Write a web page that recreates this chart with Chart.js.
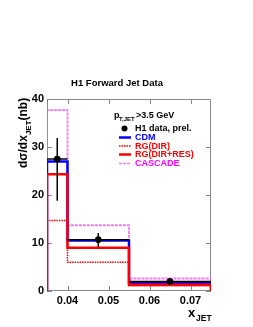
<!DOCTYPE html>
<html>
<head>
<meta charset="utf-8">
<script src="https://cdn.jsdelivr.net/npm/chart.js@4"></script>
<style>
  html, body { margin: 0; padding: 0; background: #fff; }
  canvas { display: block; }
</style>
</head>
<body>
<canvas id="c" width="253" height="327"></canvas>
<script>
// bin edges and histogram heights (nb)
const binEdges = [0.035, 0.04, 0.055, 0.075];
const cdm      = [27.0, 10.5, 1.7];
const rgDir    = [14.7, 6.0, 1.1];
const rgDirRes = [24.3, 9.0, 1.3];
const cascade  = [37.7, 13.7, 2.6];

// H1 data points
const dataX     = [0.0375, 0.0475, 0.065];
const dataY     = [27.5, 10.7, 2.0];
const dataErrUp = [4.4, 1.4, 0.3];
const dataErrDn = [8.7, 1.5, 0.3];

const xTicks = [0.04, 0.05, 0.06, 0.07];
const yTicks = [0, 10, 20, 30, 40];

const FONT = 'Liberation Sans, Arial, sans-serif';

// turn bin contents into a step outline
function steps(vals) {
  const pts = [{ x: binEdges[0], y: 0 }];
  vals.forEach((v, i) => {
    pts.push({ x: binEdges[i], y: v });
    pts.push({ x: binEdges[i + 1], y: v });
  });
  pts.push({ x: binEdges[binEdges.length - 1], y: 0 });
  return pts;
}

const legendItems = [
  { label: 'H1 data, prel.', color: '#000', type: 'dot' },
  { label: 'CDM', color: '#0000ff', lineColor: '#0000ff', dash: [], w: 2.5 },
  { label: 'RG(DIR)', color: '#ff0000', lineColor: '#ff0000', dash: [1.5, 1], w: 1.5 },
  { label: 'RG(DIR+RES)', color: '#ff0000', lineColor: '#ff0000', dash: [], w: 2.5 },
  { label: 'CASCADE', color: '#ff00ff', lineColor: 'rgba(240,90,240,0.8)', dash: [3, 1], w: 1.5 }
];

// chart.js paints dataset 0 last, so the data sit first in the list
const H1_INDEX = 0;

// frame, inward ticks, titles and legend
const decor = {
  id: 'decor',
  beforeDatasetsDraw(chart) {
    const { ctx, chartArea: a, scales: { x, y } } = chart;
    ctx.save();
    ctx.strokeStyle = '#888';
    ctx.lineWidth = 1;
    ctx.strokeRect(a.left + 0.5, a.top + 0.5, a.right - a.left - 1, a.bottom - a.top - 1);
    ctx.beginPath();
    xTicks.forEach(v => {
      const px = Math.round(x.getPixelForValue(v)) + 0.5;
      ctx.moveTo(px, a.bottom); ctx.lineTo(px, a.bottom - 5);
      ctx.moveTo(px, a.top); ctx.lineTo(px, a.top + 5);
    });
    yTicks.forEach(v => {
      const py = Math.round(y.getPixelForValue(v)) + 0.5;
      ctx.moveTo(a.left, py); ctx.lineTo(a.left + 5, py);
      ctx.moveTo(a.right, py); ctx.lineTo(a.right - 5, py);
    });
    ctx.stroke();
    ctx.restore();
  },
  beforeDatasetDraw(chart, args) {
    if (args.index !== H1_INDEX) return;
    const { ctx, scales: { x, y } } = chart;
    ctx.save();
    ctx.strokeStyle = '#000';
    ctx.lineWidth = 1.5;
    dataX.forEach((xv, i) => {
      const px = x.getPixelForValue(xv);
      ctx.beginPath();
      ctx.moveTo(x.getPixelForValue(binEdges[i]), y.getPixelForValue(dataY[i]));
      ctx.lineTo(x.getPixelForValue(binEdges[i + 1]), y.getPixelForValue(dataY[i]));
      ctx.stroke();
      ctx.beginPath();
      ctx.moveTo(px, y.getPixelForValue(dataY[i] + dataErrUp[i]));
      ctx.lineTo(px, y.getPixelForValue(dataY[i] - dataErrDn[i]));
      ctx.stroke();
    });
    ctx.restore();
  },
  afterDraw(chart) {
    const { ctx } = chart;
    ctx.save();
    ctx.fillStyle = '#000';
    ctx.textBaseline = 'alphabetic';
    // title
    ctx.font = 'bold 9.5px ' + FONT;
    ctx.textAlign = 'center';
    ctx.fillText('H1 Forward Jet Data', 117, 86);

    // y title, rotated
    ctx.save();
    ctx.translate(27, 168);
    ctx.rotate(-Math.PI / 2);
    ctx.textAlign = 'left';
    ctx.font = 'bold 12px ' + FONT;
    const t = 'd\u03c3/dx';
    ctx.fillText(t, 0, 0);
    let off = ctx.measureText(t).width;
    ctx.font = 'bold 8px ' + FONT;
    ctx.fillText('JET', off, 3.5);
    off += ctx.measureText('JET').width;
    ctx.font = 'bold 12px ' + FONT;
    ctx.fillText('(nb)', off, 0);
    ctx.restore();

    // x title
    ctx.textAlign = 'left';
    ctx.font = 'bold 13px ' + FONT;
    ctx.fillText('x', 188, 317);
    ctx.font = 'bold 8.5px ' + FONT;
    ctx.fillText('JET', 196, 321);

    // pT cut
    ctx.font = 'bold 9px ' + FONT;
    ctx.fillText('p', 114, 118);
    ctx.font = 'bold 6px ' + FONT;
    ctx.fillText('T,JET', 119, 121);
    ctx.font = 'bold 9px ' + FONT;
    ctx.fillText('>3.5 GeV', 136, 118);

    // legend
    const rows = [128.5, 137.5, 146, 154.5, 163.5];
    legendItems.forEach((it, i) => {
      const ry = rows[i];
      if (it.type === 'dot') {
        ctx.beginPath();
        ctx.arc(124.5, ry, 3, 0, Math.PI * 2);
        ctx.fill();
      } else {
        ctx.strokeStyle = it.lineColor;
        ctx.lineWidth = it.w;
        ctx.setLineDash(it.dash);
        ctx.beginPath();
        ctx.moveTo(119, ry); ctx.lineTo(131, ry);
        ctx.stroke();
        ctx.setLineDash([]);
      }
      ctx.fillStyle = it.color;
      ctx.font = 'bold 9px ' + FONT;
      ctx.textBaseline = 'middle';
      ctx.fillText(it.label, 135, ry + 0.5);
    });
    ctx.restore();
  }
};

new Chart(document.getElementById('c'), {
  type: 'line',
  data: {
    datasets: [
      {
        type: 'scatter', label: 'H1 data, prel.',
        data: dataX.map((v, i) => ({ x: v, y: dataY[i] })),
        backgroundColor: '#000', borderColor: '#000', pointRadius: 3, showLine: false
      },
      { label: 'RG(DIR+RES)', data: steps(rgDirRes), borderColor: '#ff0000', borderWidth: 2.5 },
      { label: 'RG(DIR)', data: steps(rgDir), borderColor: '#ff0000', borderWidth: 1.5, borderDash: [1.5, 1] },
      { label: 'CDM', data: steps(cdm), borderColor: '#0000ff', borderWidth: 2.5 },
      { label: 'CASCADE', data: steps(cascade), borderColor: 'rgba(240,90,240,0.8)', borderWidth: 1.8, borderDash: [3, 1] }
    ]
  },
  options: {
    responsive: false,
    animation: false,
    events: [],
    elements: { line: { tension: 0, fill: false }, point: { radius: 0 } },
    layout: { padding: { left: 0, right: 42, top: 99, bottom: 0 } },
    plugins: { legend: { display: false }, title: { display: false }, tooltip: { enabled: false } },
    scales: {
      x: {
        type: 'linear', min: 0.035, max: 0.075,
        afterBuildTicks: s => { s.ticks = xTicks.map(v => ({ value: v })); },
        afterFit: s => { s.height = 36; },
        grid: { display: false, drawTicks: false }, border: { display: false },
        ticks: { color: '#000', padding: 3, font: { family: FONT, size: 11, weight: 'bold' }, maxRotation: 0,
                 callback: v => v.toFixed(2) }
      },
      y: {
        min: 0, max: 40,
        afterBuildTicks: s => { s.ticks = yTicks.map(v => ({ value: v })); },
        afterFit: s => { s.width = 47; },
        grid: { display: false, drawTicks: false }, border: { display: false },
        ticks: { color: '#000', padding: 3, font: { family: FONT, size: 11, weight: 'bold' } }
      }
    }
  },
  plugins: [decor]
});
</script>
</body>
</html>
